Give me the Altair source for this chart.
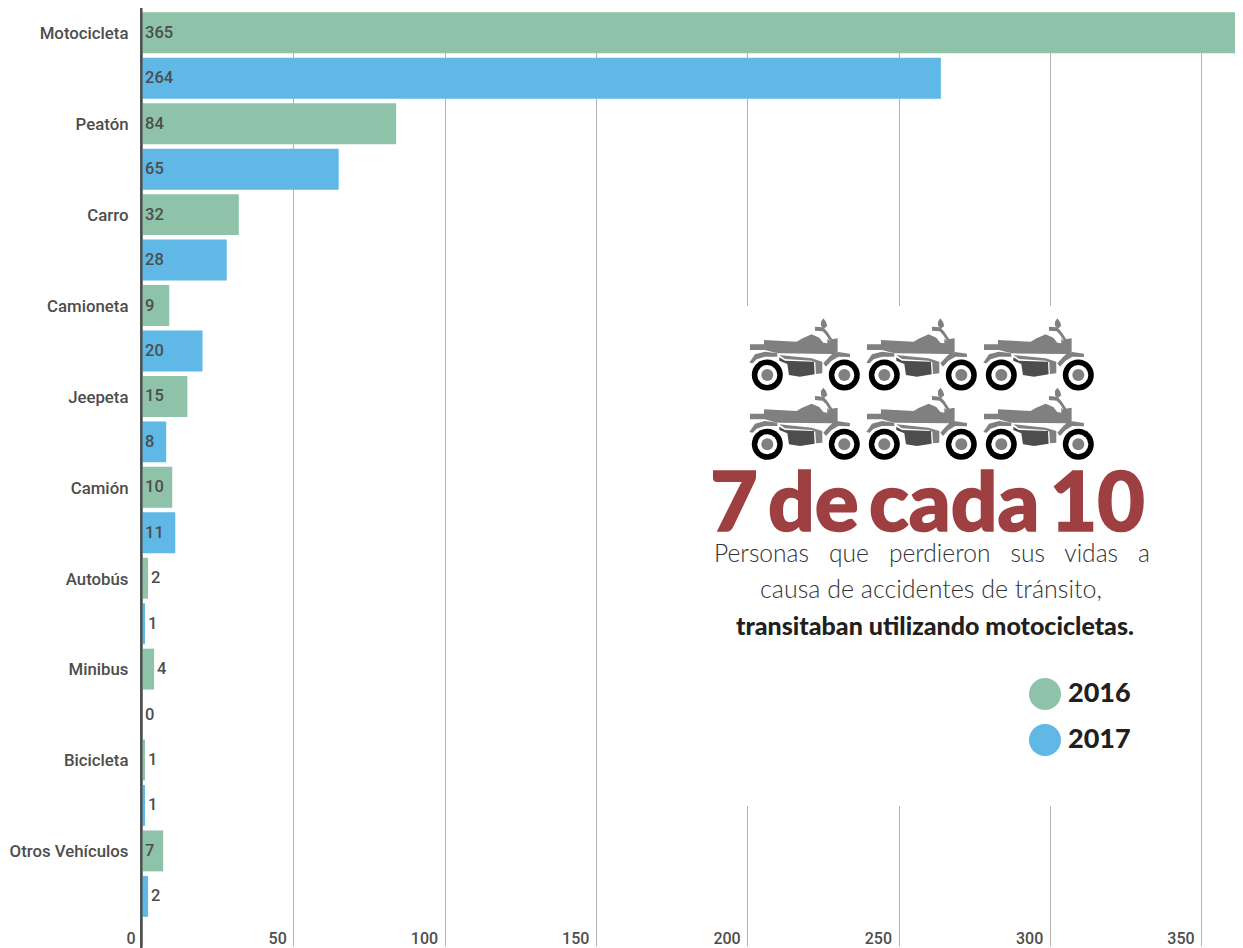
import altair as alt
import pandas as pd

categories = ["Motocicleta", "Peatón", "Carro", "Camioneta", "Jeepeta", "Camión",
              "Autobús", "Minibus", "Bicicleta", "Otros Vehículos"]
values_2016 = [365, 84, 32, 9, 15, 10, 2, 4, 1, 7]
values_2017 = [264, 65, 28, 20, 8, 11, 1, 0, 1, 2]
years = ["2016", "2017"]
year_colors = ["#8fc3a9", "#5fb8e6"]
x_ticks = [0, 50, 100, 150, 200, 250, 300, 350]
icon_cols = [0, 1, 2]
icon_rows = [0, 1]

OX, OY = 142, 8
W, H = 1093, 940

rows = []
for c, a, b in zip(categories, values_2016, values_2017):
    rows.append({"cat": c, "year": "2016", "v": a, "lab": 0 if a > 4 else a})
    rows.append({"cat": c, "year": "2017", "v": b, "lab": 0 if b > 4 else b})
df = pd.DataFrame(rows)

xs = alt.Scale(domain=[0, W / 3.026], nice=False, zero=False)
ys = alt.Scale(domain=categories, range=[2.1, 911.1], paddingInner=0, paddingOuter=0)
yo = alt.YOffset("year:N", scale=alt.Scale(domain=years, paddingInner=0.1, paddingOuter=0.05))

def path(points):
    return "M" + "L".join(f"{x-82},{y-195}" for x, y in points) + "Z"

body = (
    path([(30,103),(72,103),(72,90),(170,95),(185,86),(215,73),(238,83),(250,98),(262,100),(262,86),(275,98),(275,88),(293,85),(293,127),(275,132),(115,130),(100,127),(75,120),(30,120)])
    + path([(250,25),(258,35),(262,48),(253,55),(243,48),(243,35)])
    + path([(225,50),(250,52),(262,65),(285,100),(276,103),(258,74),(248,64),(225,62)])
    + path([(283,125),(292,128),(258,170),(250,160)])
    + path([(28,158),(45,133),(75,125),(112,130),(112,140),(75,140),(50,148),(38,160)])
    + path([(250,160),(270,138),(295,126),(330,131),(330,141),(295,140),(275,152),(258,170)])
    + path([(118,135),(215,145),(247,155),(247,190),(228,192),(226,157),(215,152),(135,147)])
)
engine = path([(118,142),(135,152),(222,155),(224,193),(180,200),(147,195),(142,162),(118,152)])

icons = pd.DataFrame([{"col": c, "row": r} for r in icon_rows for c in icon_cols])
icons["px"] = 767.3 + 117 * icons["col"] - OX
icons["py"] = 375 + 69.3 * icons["row"] - OY
wheels = pd.concat([icons.assign(px=icons["px"]), icons.assign(px=icons["px"] + 77)])

def icon_layer(data, shape, size, color):
    return alt.Chart(data).mark_point(shape=shape, size=size, filled=True, fill=color, stroke=None, opacity=1).encode(
        x=alt.X("px:Q", scale=None), y=alt.Y("py:Q", scale=None))

def note(text, cx, by, size, weight, color, family="Lato", **kw):
    return alt.Chart(pd.DataFrame({"t": [text]})).mark_text(
        font=family, fontSize=size, fontWeight=weight, color=color, align="center", baseline="alphabetic", **kw
    ).encode(text="t:N", x=alt.value(cx - OX), y=alt.value(by - OY))

mask = alt.Chart(pd.DataFrame({"a": [1]})).mark_rect(color="white").encode(
    x=alt.value(650 - OX), x2=alt.value(1198 - OX), y=alt.value(306 - OY), y2=alt.value(806 - OY))

bars = alt.Chart(df).mark_bar(clip=True, opacity=1).encode(
    x=alt.X("v:Q", scale=xs, title=None, axis=alt.Axis(
        values=x_ticks, grid=True, gridColor="#b4b4b4", gridWidth=1, domain=False, ticks=False,
        labelFont="Roboto", labelFontSize=16, labelFontWeight=500, labelColor="#4d4d4d",
        labelAlign="right", labelBaseline="middle", labelPadding=-10, labelOffset=-7,
        labelFlush=False, labelBound=False, labelOverlap=False)),
    y=alt.Y("cat:N", scale=ys, sort=categories, title=None, axis=alt.Axis(
        domain=False, ticks=False, grid=False, labelFont="Roboto", labelFontSize=16.8, labelFontWeight=500,
        labelColor="#4d4d4d", labelPadding=14, labelOffset=-21.4)),
    yOffset=yo,
    color=alt.Color("year:N", scale=alt.Scale(domain=years, range=year_colors), legend=alt.Legend(
        title=None, orient="none", legendX=1029 - OX, legendY=678 - OY, symbolType="circle", symbolSize=1024,
        symbolStrokeWidth=0, labelFont="Lato", labelFontSize=27, labelFontWeight=900, labelColor="#231f20",
        labelOffset=7, rowPadding=14, padding=0)),
)

labels = alt.Chart(df).mark_text(
    font="Roboto", fontSize=16.5, fontWeight=500, color="#4d4d4d", align="left", baseline="middle", dx=3
).encode(x=alt.X("lab:Q", scale=xs), y=alt.Y("cat:N", scale=ys, sort=categories), yOffset=yo, text="v:Q")

axis_line = alt.Chart(pd.DataFrame({"a": [0]})).mark_rule(color="#4d4d4d", strokeWidth=2.5, xOffset=-0.7).encode(
    x=alt.X("a:Q", scale=xs))

layers = [
    mask, bars, labels, axis_line,
    icon_layer(icons, body, 0.4444, "#808080"),
    icon_layer(icons, engine, 0.4444, "#4d4d4d"),
    icon_layer(wheels, "circle", 961, "#000000"),
    icon_layer(wheels, "circle", 400, "#ffffff"),
    icon_layer(wheels, "circle", 144, "#808080"),
    note("7\u2009de\u2009cada\u200910", 927.5, 531, 82, 900, "#9e3f42", stroke="#9e3f42", strokeWidth=1.6),
    note("Personas\u00a0\u00a0\u00a0que\u00a0\u00a0\u00a0perdieron\u00a0\u00a0\u00a0sus\u00a0\u00a0\u00a0vidas\u00a0\u00a0\u00a0a", 932, 562, 24.6, 300, "#333333"),
    note("causa de accidentes de tránsito,", 931, 598, 25, 300, "#333333"),
    note("transitaban utilizando motocicletas.", 935, 635, 25, 900, "#231f20"),
]

chart = alt.layer(*layers).properties(
    width=W, height=H, background="white",
    padding={"left": OX - 8, "top": 0, "right": 0, "bottom": 0},
    autosize=alt.AutoSizeParams(type="none"),
).configure_view(stroke=None)

chart.save("out.html", embed_options={"renderer": "svg", "actions": False})
